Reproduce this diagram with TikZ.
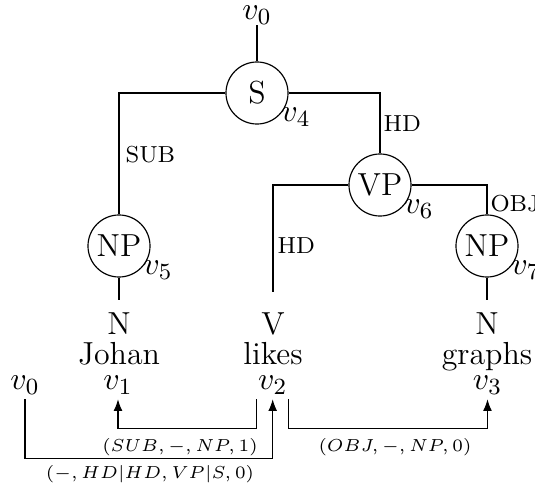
\documentclass[tikz,border=0pt]{standalone}
\usetikzlibrary{arrows.meta,calc}
\begin{document}
\begin{tikzpicture}[x=0.345pt,y=-0.345pt,
  font=\fontsize{11}{13}\selectfont,
  cat/.style={circle,draw,minimum size=21.4pt,inner sep=0pt},
  vlab/.style={inner sep=0pt},
  rel/.style={font=\footnotesize,inner sep=0pt,anchor=west},
  word/.style={inner sep=0pt,anchor=base},
  idx/.style={inner sep=0pt,outer sep=1.7pt,anchor=base},
  dep/.style={-{Latex[length=4pt,width=3pt]}},
  deplab/.style={font=\fontsize{6.4}{7.5}\selectfont,inner sep=0pt}]
\useasboundingbox (0,0) rectangle (535,487);

% phrase-structure tree
\node[vlab,anchor=south] (root) at (257,25) {$v_0$};
\node[cat] (S)   at (257,93)  {S};
\node[cat] (NPa) at (119,246) {NP};
\node[cat] (VP)  at (380,185) {VP};
\node[cat] (NPb) at (487,246) {NP};

\node[vlab] (v4) at ($(S)+(39,24.5)$)   {$v_4$};
\node[vlab] (v5) at ($(NPa)+(39,24.5)$) {$v_5$};
\node[vlab] (v6) at ($(VP)+(39,24.5)$)  {$v_6$};
\node[vlab] (v7) at ($(NPb)+(39,24.5)$) {$v_7$};

% words with their categories and indices
\node[word] (N1) at (119,334) {N};
\node[word] (w1) at (119,364) {Johan};
\node[idx]  (i1) at (118,389.5) {$v_1$};
\node[word] (N2) at (273,334) {V};
\node[word] (w2) at (273,364) {likes};
\node[idx]  (i2) at (272.7,389.5) {$v_2$};
\node[word] (N3) at (487,334) {N};
\node[word] (w3) at (487,364) {graphs};
\node[idx]  (i3) at (487.5,389.5) {$v_3$};
\node[idx]  (i0) at (25,389.5) {$v_0$};

\coordinate (e1) at (119,300);
\coordinate (e2) at (273,292);
\coordinate (e3) at (487,300);

\draw (root.south) -- (S.north);
\draw (S.west) -| (NPa.north);
\draw (S.east) -| (VP.north);
\draw (VP.west) -| (e2);
\draw (VP.east) -| (NPb.north);
\draw (NPa.south) -- (e1);
\draw (NPb.south) -- (e3);

\node[rel] (sub) at (125,155) {SUB};
\node[rel] (hd1) at (383,124) {HD};
\node[rel] (hd2) at (277,246) {HD};
\node[rel] (obj) at (490,204) {OBJ};

% dependency arcs
\draw[dep] ($(i2.south)+(-16,0)$) -- ++(0,29) -| (i1.south);
\draw[dep] ($(i2.south)+(16,0)$) -- ++(0,29) -| (i3.south);
\draw[dep] (i0.south) -- ++(0,59) -| (i2.south);

\node[deplab] (l1) at (180,447) {$(SUB,-,NP,1)$};
\node[deplab] (l2) at (395,447) {$(OBJ,-,NP,0)$};
\node[deplab] (l3) at (150,474) {$(-,HD|HD,VP|S,0)$};
\end{tikzpicture}
\end{document}
